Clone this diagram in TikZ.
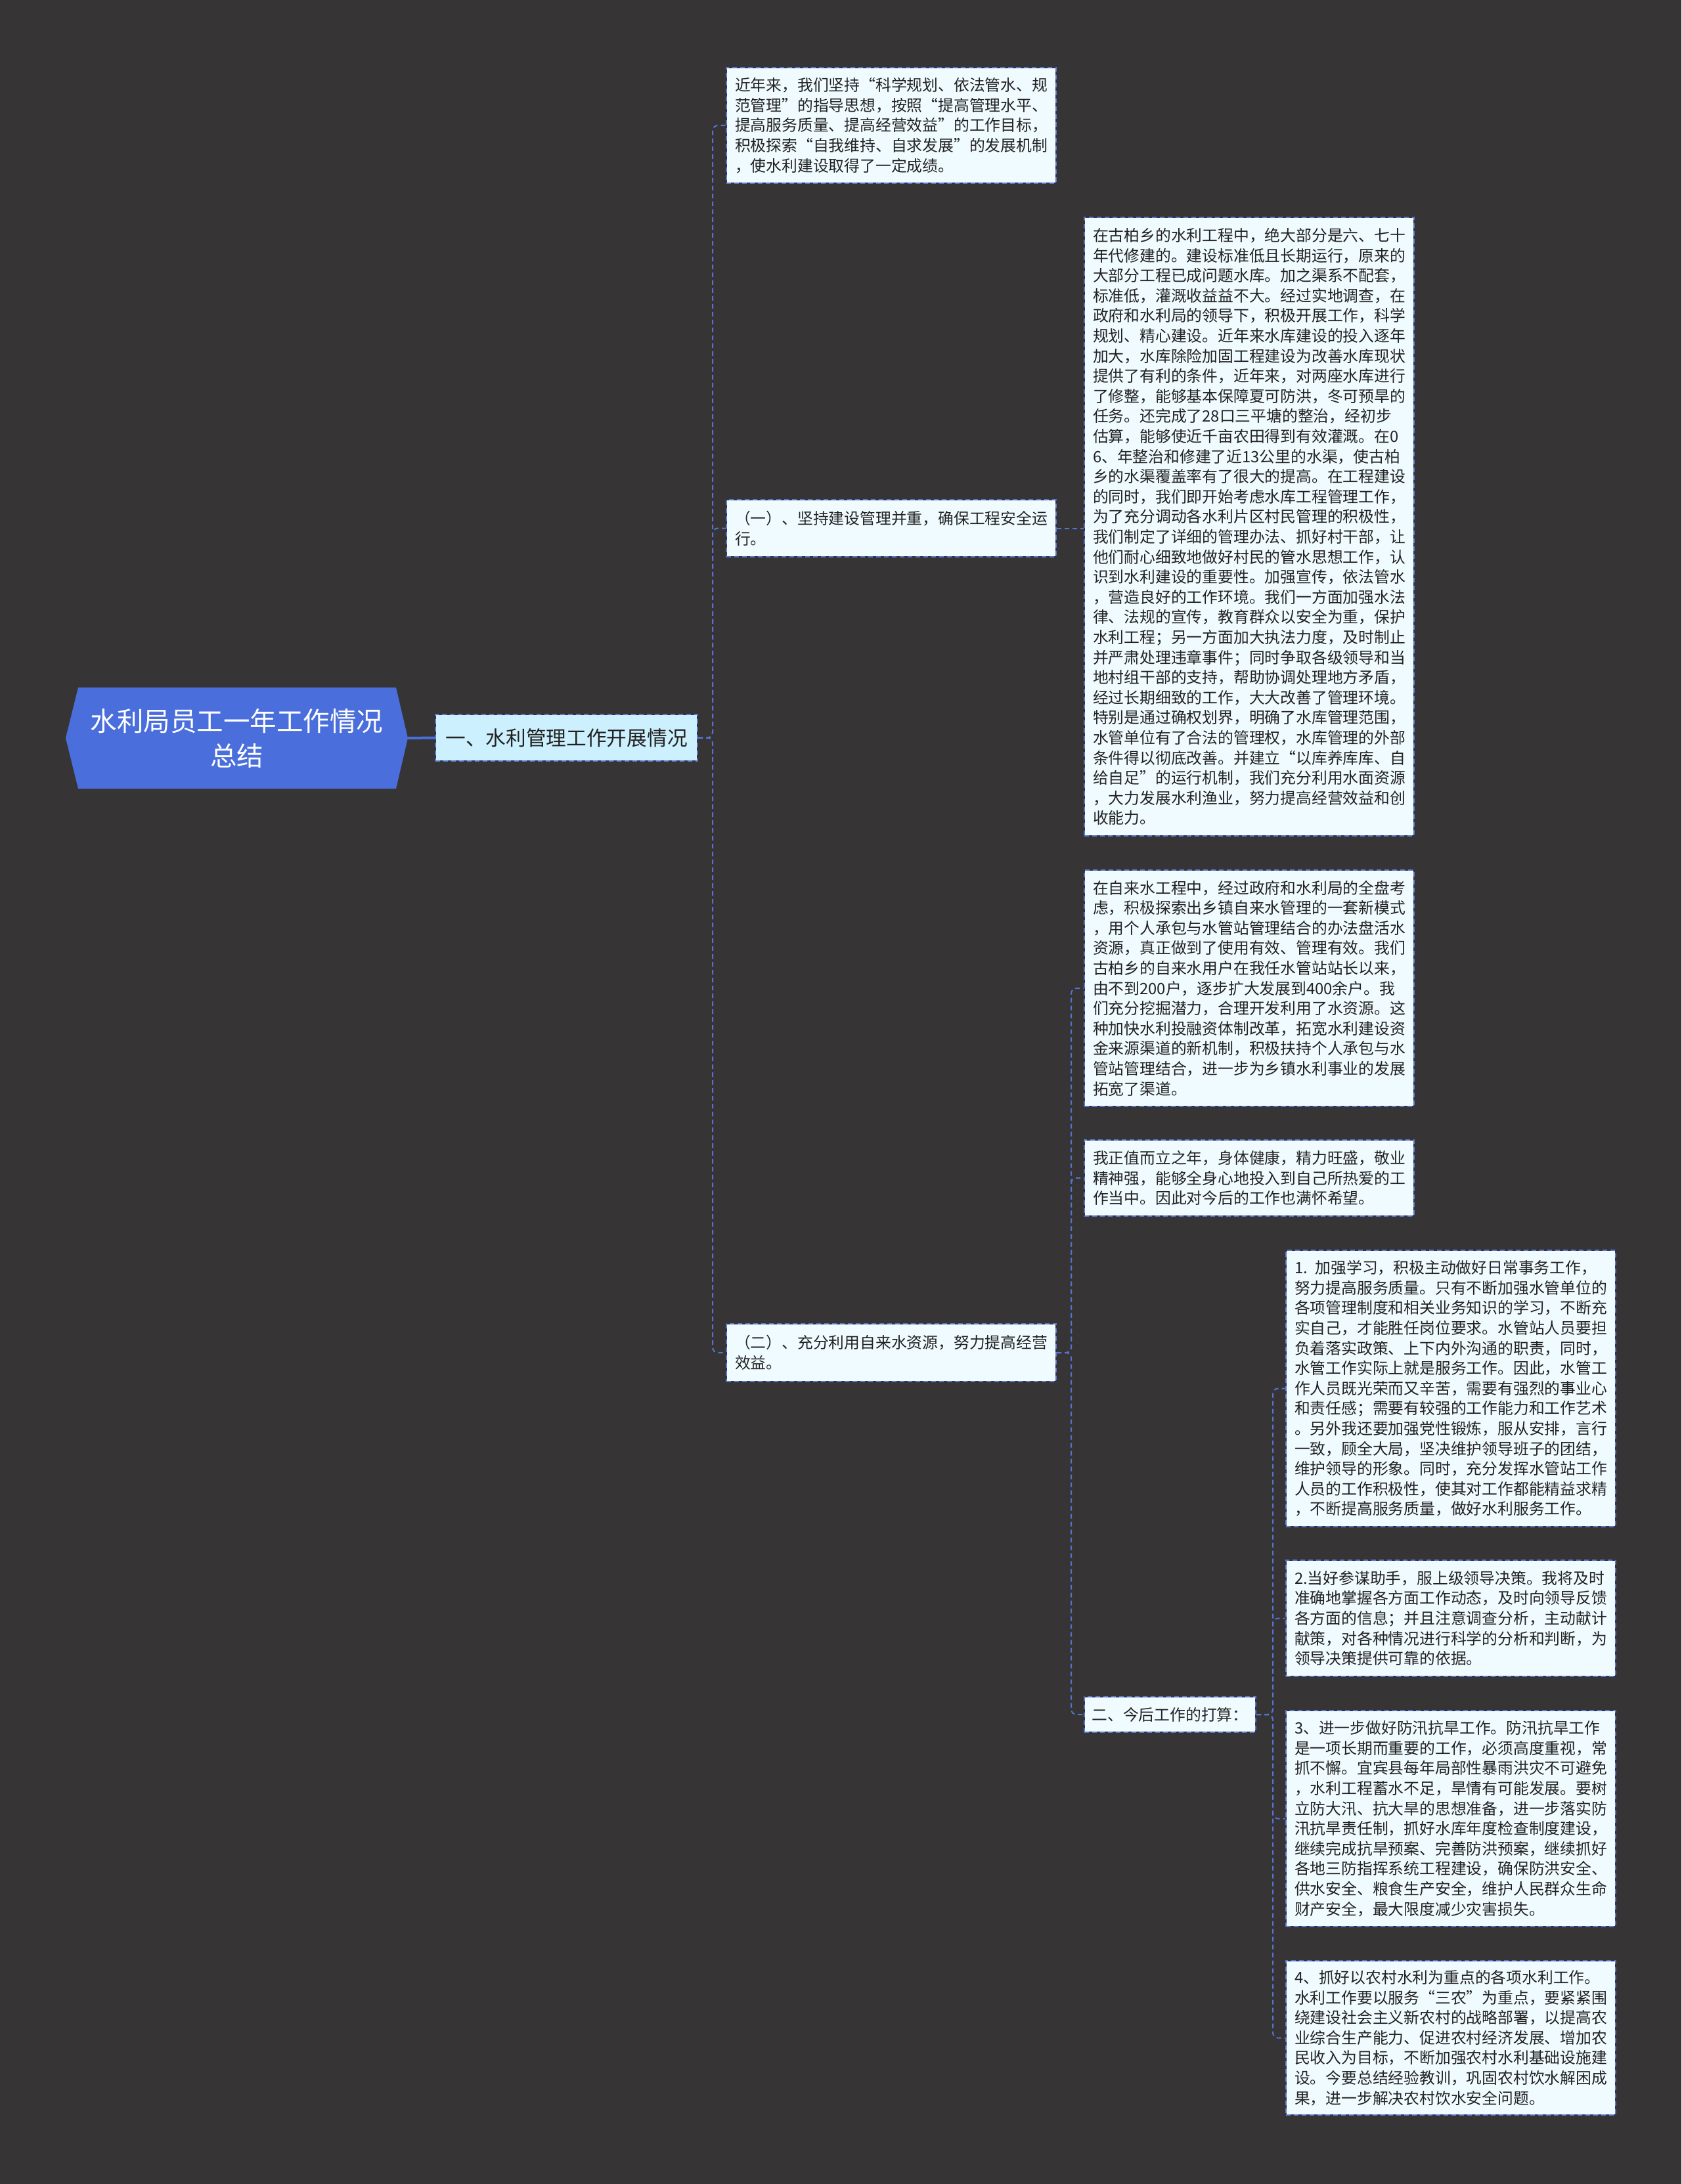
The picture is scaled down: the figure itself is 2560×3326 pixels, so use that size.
\documentclass[tikz,border=0pt]{standalone}
\usepackage{fontspec}
\setmainfont{Noto Sans CJK SC}
\usetikzlibrary{calc}
\definecolor{bgc}{HTML}{363435}
\definecolor{rootfill}{HTML}{4A6FDC}
\definecolor{lonefill}{HTML}{CDF0FE}
\definecolor{leaffill}{HTML}{F0FBFF}
\definecolor{bblue}{HTML}{5A78CC}
\definecolor{bdark}{HTML}{34344A}
\definecolor{lblue}{HTML}{5573D0}
\definecolor{txt}{HTML}{222222}
\tikzset{
  box/.style={rectangle, fill=leaffill, draw=bdark, line width=2pt,
    postaction={draw=bblue, dash pattern=on 7pt off 5pt, line width=2pt},
    anchor=north west, inner xsep=13pt, inner ysep=0pt, align=left, text=txt,
    font=\fontsize{23.8}{30.6}\selectfont},
  leaf/.style={box, text width=476pt, minimum width=502pt},
  conn/.style={draw=lblue, line width=2pt, dash pattern=on 7pt off 5pt, rounded corners=8pt},
  rootconn/.style={draw=rootfill, line width=4pt},
}
\begin{document}
\begin{tikzpicture}[x=1pt,y=-1pt]
\fill[bgc] (0,0) rectangle (2560,3326);
\useasboundingbox (0,0) rectangle (2560,3326);

% root
\fill[rootfill] (100,1124) -- (119,1047) -- (603,1047) -- (621,1124) -- (603,1201) -- (119,1201) -- cycle;
\node[minimum width=521pt, minimum height=154pt, inner sep=0pt, align=center, text=white,
  font=\fontsize{40.5}{53}\selectfont] (root) at (360.5,1124) {水利局员工一年工作情况\\总结};

% level 1
\node[box, fill=lonefill, anchor=center, minimum width=399pt, minimum height=71pt, inner xsep=14pt,
  font=\fontsize{30.7}{38}\selectfont] (l1) at (862.5,1123.5) {一、水利管理工作开展情况};

% level 2
\node[leaf, minimum height=176pt] (a) at (1105,102) {近年来，我们坚持“科学规划、依法管水、规\\范管理”的指导思想，按照“提高管理水平、\\提高服务质量、提高经营效益”的工作目标，\\积极探索“自我维持、自求发展”的发展机制\\，使水利建设取得了一定成绩。};
\node[leaf, minimum height=87pt] (b) at (1105,760) {（一）、坚持建设管理并重，确保工程安全运\\行。};
\node[leaf, minimum height=88pt] (c) at (1105,2015) {（二）、充分利用自来水资源，努力提高经营\\效益。};

% level 3
\node[leaf, minimum height=942pt] (d) at (1650,330) {在古柏乡的水利工程中，绝大部分是六、七十\\年代修建的。建设标准低且长期运行，原来的\\大部分工程已成问题水库。加之渠系不配套，\\标准低，灌溉收益益不大。经过实地调查，在\\政府和水利局的领导下，积极开展工作，科学\\规划、精心建设。近年来水库建设的投入逐年\\加大，水库除险加固工程建设为改善水库现状\\提供了有利的条件，近年来，对两座水库进行\\了修整，能够基本保障夏可防洪，冬可预旱的\\任务。还完成了28口三平塘的整治，经初步\\估算，能够使近千亩农田得到有效灌溉。在0\\6、年整治和修建了近13公里的水渠，使古柏\\乡的水渠覆盖率有了很大的提高。在工程建设\\的同时，我们即开始考虑水库工程管理工作，\\为了充分调动各水利片区村民管理的积极性，\\我们制定了详细的管理办法、抓好村干部，让\\他们耐心细致地做好村民的管水思想工作，认\\识到水利建设的重要性。加强宣传，依法管水\\，营造良好的工作环境。我们一方面加强水法\\律、法规的宣传，教育群众以安全为重，保护\\水利工程；另一方面加大执法力度，及时制止\\并严肃处理违章事件；同时争取各级领导和当\\地村组干部的支持，帮助协调处理地方矛盾，\\经过长期细致的工作，大大改善了管理环境。\\特别是通过确权划界，明确了水库管理范围，\\水管单位有了合法的管理权，水库管理的外部\\条件得以彻底改善。并建立“以库养库库、自\\给自足”的运行机制，我们充分利用水面资源\\，大力发展水利渔业，努力提高经营效益和创\\收能力。};
\node[leaf, minimum height=360pt] (e) at (1650,1324) {在自来水工程中，经过政府和水利局的全盘考\\虑，积极探索出乡镇自来水管理的一套新模式\\，用个人承包与水管站管理结合的办法盘活水\\资源，真正做到了使用有效、管理有效。我们\\古柏乡的自来水用户在我任水管站站长以来，\\由不到200户，逐步扩大发展到400余户。我\\们充分挖掘潜力，合理开发利用了水资源。这\\种加快水利投融资体制改革，拓宽水利建设资\\金来源渠道的新机制，积极扶持个人承包与水\\管站管理结合，进一步为乡镇水利事业的发展\\拓宽了渠道。};
\node[leaf, minimum height=116pt] (f) at (1650,1735) {我正值而立之年，身体健康，精力旺盛，敬业\\精神强，能够全身心地投入到自己所热爱的工\\作当中。因此对今后的工作也满怀希望。};
\node[box, minimum width=261pt, minimum height=54pt, inner xsep=11pt] (g) at (1650,2583) {二、今后工作的打算：};

% level 4
\node[leaf, minimum height=421pt] (h) at (1957,1903) {1. 加强学习，积极主动做好日常事务工作，\\努力提高服务质量。只有不断加强水管单位的\\各项管理制度和相关业务知识的学习，不断充\\实自己，才能胜任岗位要求。水管站人员要担\\负着落实政策、上下内外沟通的职责，同时，\\水管工作实际上就是服务工作。因此，水管工\\作人员既光荣而又辛苦，需要有强烈的事业心\\和责任感；需要有较强的工作能力和工作艺术\\。另外我还要加强党性锻炼，服从安排，言行\\一致，顾全大局，坚决维护领导班子的团结，\\维护领导的形象。同时，充分发挥水管站工作\\人员的工作积极性，使其对工作都能精益求精\\，不断提高服务质量，做好水利服务工作。};
\node[leaf, minimum height=177pt] (i) at (1957,2375) {2.当好参谋助手，服上级领导决策。我将及时\\准确地掌握各方面工作动态，及时向领导反馈\\各方面的信息；并且注意调查分析，主动献计\\献策，对各种情况进行科学的分析和判断，为\\领导决策提供可靠的依据。};
\node[leaf, minimum height=329pt] (j) at (1957,2604) {3、进一步做好防汛抗旱工作。防汛抗旱工作\\是一项长期而重要的工作，必须高度重视，常\\抓不懈。宜宾县每年局部性暴雨洪灾不可避免\\，水利工程蓄水不足，旱情有可能发展。要树\\立防大汛、抗大旱的思想准备，进一步落实防\\汛抗旱责任制，抓好水库年度检查制度建设，\\继续完成抗旱预案、完善防洪预案，继续抓好\\各地三防指挥系统工程建设，确保防洪安全、\\供水安全、粮食生产安全，维护人民群众生命\\财产安全，最大限度减少灾害损失。};
\node[leaf, minimum height=235pt] (k) at (1957,2985) {4、抓好以农村水利为重点的各项水利工作。\\水利工作要以服务“三农”为重点，要紧紧围\\绕建设社会主义新农村的战略部署，以提高农\\业综合生产能力、促进农村经济发展、增加农\\民收入为目标，不断加强农村水利基础设施建\\设。今要总结经验教训，巩固农村饮水解困成\\果，进一步解决农村饮水安全问题。};

% connectors
\draw[rootconn] (root.east) -- (l1.west);
\draw[conn] (l1.east) -- ++(22,0) |- (a.west);
\draw[conn] (l1.east) -- ++(22,0) |- (b.west);
\draw[conn] (l1.east) -- ++(22,0) |- (c.west);
\draw[conn] (b.east) -- (b.east -| d.west);
\draw[conn] (c.east) -- ++(22,0) |- (e.west);
\draw[conn] (c.east) -- ++(22,0) |- (f.west);
\draw[conn] (c.east) -- ++(22,0) |- (g.west);
\draw[conn] (g.east) -- ++(25,0) |- (h.west);
\draw[conn] (g.east) -- ++(25,0) |- (i.west);
\draw[conn] (g.east) -- ++(25,0) |- (j.west);
\draw[conn] (g.east) -- ++(25,0) |- (k.west);
\end{tikzpicture}
\end{document}
